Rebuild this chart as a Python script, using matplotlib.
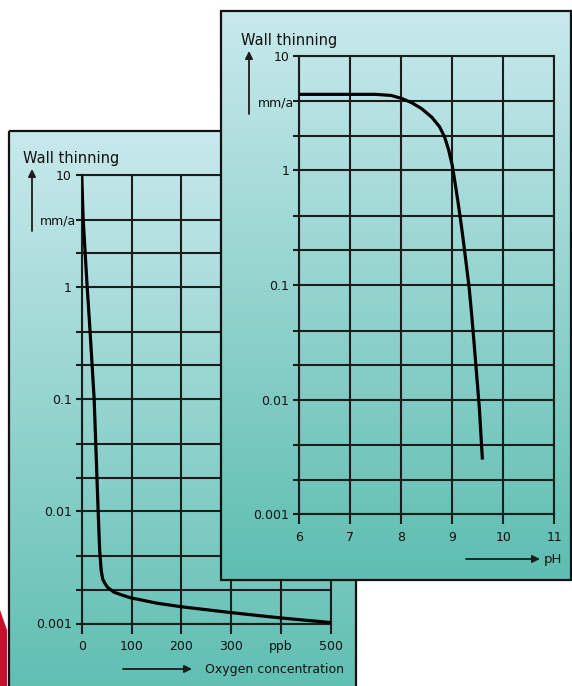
import numpy as np
import matplotlib
matplotlib.use("Agg")
import matplotlib.pyplot as plt
from matplotlib.patches import Rectangle, Polygon
from matplotlib.ticker import LogLocator, NullFormatter, FixedLocator, FixedFormatter

# ---------------- data ----------------
oxygen_ppb = [0, 3, 11, 17, 25, 33, 36, 39, 42, 46, 52, 65, 80, 97, 150, 200, 300, 400, 500]
oxygen_rate = [10, 4.0, 1.0, 0.39, 0.1, 0.01, 0.0045, 0.003, 0.0025, 0.0023, 0.0021, 0.0019,
               0.0018, 0.0017, 0.00152, 0.00141, 0.00125, 0.00112, 0.00102]
oxygen_ticks = [0, 100, 200, 300, 400, 500]
oxygen_ticklabels = ["0", "100", "200", "300", "ppb", "500"]

ph_values = [6.0, 7.0, 7.5, 7.8, 8.0, 8.2, 8.4, 8.6, 8.75, 8.85, 8.93, 9.0, 9.06, 9.12,
             9.19, 9.26, 9.33, 9.38, 9.43, 9.48, 9.53, 9.59]
ph_rate = [4.6, 4.6, 4.6, 4.5, 4.25, 3.9, 3.45, 2.9, 2.4, 1.95, 1.5, 1.1, 0.75, 0.5,
           0.3, 0.17, 0.095, 0.055, 0.03, 0.016, 0.0085, 0.003]
ph_ticks = [6, 7, 8, 9, 10, 11]
ph_ticklabels = ["6", "7", "8", "9", "10", "11"]

rate_ticks = [0.001, 0.01, 0.1, 1, 10]
rate_ticklabels = ["0.001", "0.01", "0.1", "1", "10"]

W, H = 572, 686
fig = plt.figure(figsize=(W / 100, H / 100), dpi=100)
fig.patch.set_facecolor("white")
plt.rcParams["font.family"] = ["DejaVu Sans"]

INK = "#1c1c1c"
TOP = np.array([200, 233, 236]) / 255
BOT = np.array([94, 190, 177]) / 255


def background(x0, y0, x1, y1, z):
    ax = fig.add_axes([0, 0, 1, 1], zorder=z)
    ax.patch.set_alpha(0)
    t = np.linspace(0, 1, 256)[:, None, None]
    img = TOP[None, None, :] * (1 - t) + BOT[None, None, :] * t
    img = np.repeat(img, 2, axis=1)
    ax.imshow(img, extent=(x0, x1, y1, y0), aspect="auto", origin="upper", zorder=0)
    ax.add_patch(Rectangle((x0, y0), x1 - x0, y1 - y0, fill=False, ec="#111111", lw=1.6, zorder=2))
    ax.set_xlim(0, W)
    ax.set_ylim(H, 0)
    ax.axis("off")
    return ax


def style_axes(ax, xlim, xticks, xlabels):
    ax.patch.set_alpha(0)
    ax.set_yscale("log")
    ax.set_ylim(0.001, 10)
    ax.set_xlim(*xlim)
    ax.yaxis.set_major_locator(FixedLocator(rate_ticks))
    ax.yaxis.set_major_formatter(FixedFormatter(rate_ticklabels))
    ax.yaxis.set_minor_locator(LogLocator(base=10, subs=(2, 4)))
    ax.yaxis.set_minor_formatter(NullFormatter())
    ax.xaxis.set_major_locator(FixedLocator(xticks))
    ax.xaxis.set_major_formatter(FixedFormatter(xlabels))
    ax.grid(which="both", color=INK, lw=1.5)
    for s in ax.spines.values():
        s.set_color(INK)
        s.set_linewidth(1.5)
    ax.tick_params(axis="y", which="both", length=4.3, width=1.5, color=INK, pad=3,
                   labelsize=9, labelcolor="#111111")
    ax.tick_params(axis="x", which="both", length=7, width=1.5, color=INK, pad=5,
                   labelsize=9, labelcolor="#111111")


def px_rect(x0, y0, x1, y1):
    return [x0 / W, 1 - y1 / H, (x1 - x0) / W, (y1 - y0) / H]


# ---------------- left panel ----------------
bg1 = background(9, 131, 356, 700, 0)
bg1.add_patch(Polygon([(0, 610), (7, 630), (7, 690), (0, 690)], closed=True,
                      fc="#c8102e", ec="none", zorder=3))
bg1.set_xlim(0, W)
bg1.set_ylim(H, 0)
bg1.text(23, 159, "Wall thinning", fontsize=10.5, ha="left", va="center", color="#111111")
bg1.annotate("", xy=(32, 169), xytext=(32, 231),
             arrowprops=dict(arrowstyle="-|>", color=INK, lw=1.3, mutation_scale=11,
                             shrinkA=0, shrinkB=0))
bg1.text(76, 221, "mm/a", fontsize=9, ha="right", va="center", color="#111111")
bg1.annotate("", xy=(192, 669), xytext=(123, 669),
             arrowprops=dict(arrowstyle="-|>", color=INK, lw=1.3, mutation_scale=11,
                             shrinkA=0, shrinkB=0))
bg1.text(205, 669, "Oxygen concentration", fontsize=9, ha="left", va="center", color="#111111")

ax1 = fig.add_axes(px_rect(81.7, 175, 331, 623.5), zorder=1)
style_axes(ax1, (0, 500), oxygen_ticks, oxygen_ticklabels)
ax1.plot(oxygen_ppb, oxygen_rate, color="black", lw=2.3, solid_capstyle="butt",
         solid_joinstyle="round", zorder=5)

# ---------------- right panel ----------------
bg2 = background(221, 11, 571, 580, 2)
bg2.text(241, 40, "Wall thinning", fontsize=10.5, ha="left", va="center", color="#111111")
bg2.annotate("", xy=(249, 51), xytext=(249, 114),
             arrowprops=dict(arrowstyle="-|>", color=INK, lw=1.3, mutation_scale=11,
                             shrinkA=0, shrinkB=0))
bg2.text(294, 103, "mm/a", fontsize=9, ha="right", va="center", color="#111111")
bg2.annotate("", xy=(540, 559), xytext=(466, 559),
             arrowprops=dict(arrowstyle="-|>", color=INK, lw=1.3, mutation_scale=11,
                             shrinkA=0, shrinkB=0))
bg2.text(544, 559, "pH", fontsize=9.5, ha="left", va="center", color="#111111")

ax2 = fig.add_axes(px_rect(299.3, 55.7, 554.3, 514.3), zorder=3)
style_axes(ax2, (6, 11), ph_ticks, ph_ticklabels)
ax2.plot(ph_values, ph_rate, color="black", lw=2.3, solid_capstyle="butt",
         solid_joinstyle="round", zorder=5)

fig.savefig("out.png", dpi=100, facecolor="white")
